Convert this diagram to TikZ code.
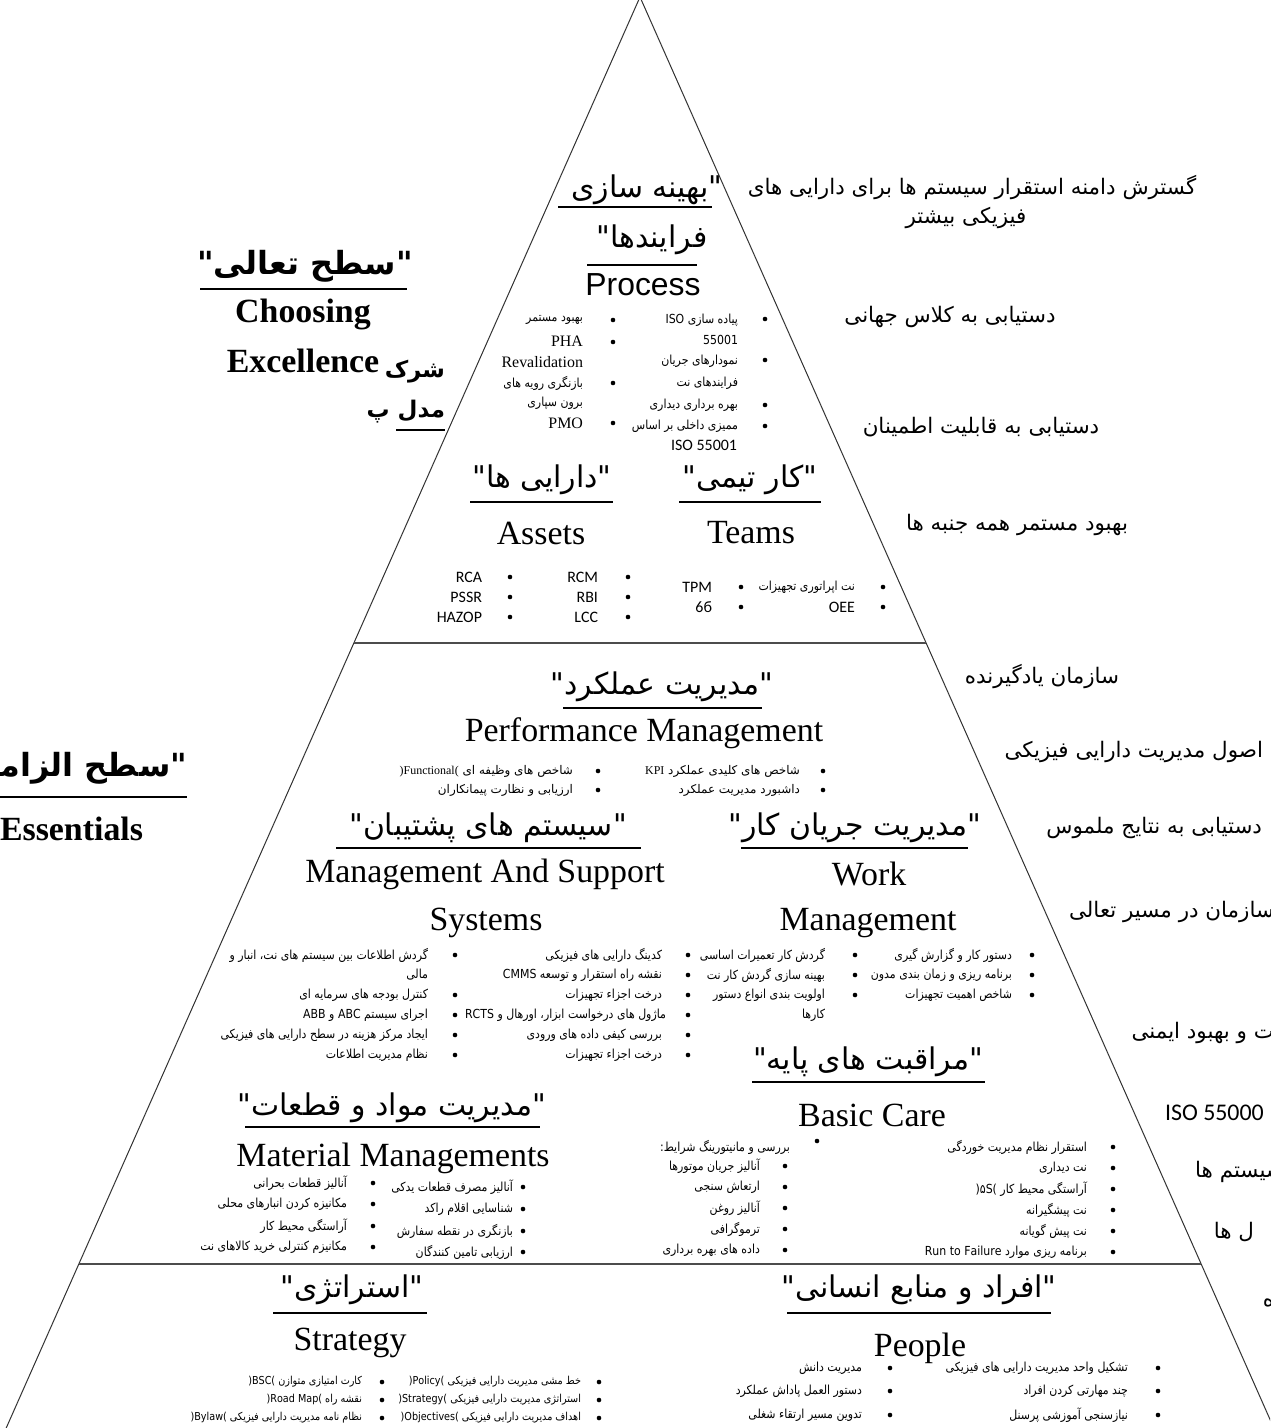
\documentclass[tikz,border=0pt]{standalone}
\usepackage{fontspec}
\usepackage{graphicx}
\setmainfont{Liberation Serif}
\newfontfamily\fafont[Script=Arabic]{DejaVu Sans}
\newfontfamily\fanarrow[Script=Arabic, FakeStretch=0.88]{DejaVu Sans}
\newfontfamily\arialfont{Liberation Sans}
\newfontfamily\califont{Carlito}
\TeXXeTstate=1
\newcommand\fa[1]{{\beginR #1\endR}}
\newcommand\lr[1]{\beginL{#1}\endL}
\newcommand\bul[2]{\fill (#1,#2) circle[radius=2.3bp];}
\tikzset{
  every node/.style={inner sep=0pt, outer sep=0pt},
  pyr/.style={draw=black!80, line width=1bp},
  divline/.style={draw=black!70, line width=1.2bp},
  uline/.style={draw=black, line width=1.3bp},
  fahead/.style={font=\fontsize{30}{34}\selectfont\fafont},
  enhead/.style={font=\fontsize{34}{38}\selectfont},
  boldhead/.style={font=\fontsize{34}{38}\selectfont\bfseries},
  fabold/.style={font=\fontsize{32}{36}\selectfont\fafont\bfseries},
  fragbold/.style={font=\fontsize{23}{26}\selectfont\fafont\bfseries, anchor=east},
  goal/.style={font=\fontsize{21.5}{25}\selectfont\fafont},
  itm/.style={font=\fontsize{12.5}{14}\selectfont\fanarrow, anchor=east},
  itmsm/.style={font=\fontsize{12}{14}\selectfont\fafont, anchor=east},
  itmxs/.style={font=\fontsize{11}{12}\selectfont\fanarrow, anchor=east},
  latitm/.style={font=\fontsize{16}{18}\selectfont\califont, anchor=east},
  seritm/.style={font=\fontsize{16}{18}\selectfont, anchor=east},
}
\begin{document}
\begin{tikzpicture}[x=1bp,y=-1bp]
\useasboundingbox (0,0) rectangle (1270,1428);
\clip (0,0) rectangle (1270,1428);
\fill[white] (0,0) rectangle (1270,1428);

% ---------- pyramid ----------
\coordinate (apex) at (640,-3);
\coordinate (bl) at (0,1442);
\coordinate (br) at (1280,1442);
\draw[pyr] (bl) -- (apex) -- (br);
\coordinate (d1l) at (354,643);
\coordinate (d1r) at (926,643);
\coordinate (d2l) at (79,1264);
\coordinate (d2r) at (1201,1264);
\draw[divline] (d1l) -- (d1r);
\draw[divline] (d2l) -- (d2r);

% ---------- top level ----------
\node[fahead] (t1) at (647,190) {\fa{"\kern0pt بهینه سازی}};
\draw[uline] (558,207) -- (712,207);
\node[fahead] (t2) at (652,240) {\fa{فرایندها\kern0pt"}};
\draw[uline] (587,265) -- (697,265);
\node[font=\fontsize{32}{36}\selectfont\arialfont] (t3) at (643,285) {Process};

\bul{765}{319}\node[itm] (p1) at (738,320) {\fa{پیاده سازی ISO}};
\node[itm] (p2) at (738,340) {\fa{55001}};
\bul{765}{360}\node[itm] (p3) at (738,361) {\fa{نمودارهای جریان}};
\node[itm] (p4) at (738,383) {\fa{فرایندهای نت}};
\bul{765}{405}\node[itm] (p5) at (738,405) {\fa{بهره برداری دیداری}};
\bul{765}{426}\node[itm] (p6) at (738,426) {\fa{ممیزی داخلی بر اساس}};
\node[latitm] (p7) at (737,445) {ISO 55001};

\bul{613}{320}\node[itm] (p8) at (583,320) {\fa{بهبود مستمر}};
\bul{613}{342}\node[seritm] (p9) at (583,341) {PHA};
\node[seritm] (p10) at (583,362) {Revalidation};
\bul{613}{383}\node[itm] (p11) at (583,383) {\fa{بازنگری رویه های}};
\node[itm] (p12) at (583,403) {\fa{برون سپاری}};
\bul{613}{423}\node[seritm] (p13) at (583,423) {PMO};

\node[fabold] (lv1) at (305,266) {\fa{"\kern0pt سطح تعالی\kern0pt"}};
\draw[uline, line width=2.2bp] (200,289) -- (407,289);
\node[boldhead] (lv1a) at (303,314) {Choosing};
\node[boldhead] (lv1b) at (303,361) {Excellence};

\node[fragbold] (fr1) at (445,372) {\fa{شرک}};
\node[fragbold] (fr2) at (445,412) {\fa{مدل پ}};
\draw[uline, line width=2bp] (396,430) -- (445,430);

\node[fahead] (a1) at (542,480) {\fa{"\kern0pt دارایی ها\kern0pt"}};
\draw[uline] (470,502) -- (613,502);
\node[fahead] (a2) at (750,480) {\fa{"\kern0pt کار تیمی\kern0pt"}};
\draw[uline] (679,502) -- (821,502);
\node[enhead] (a3) at (541,533) {Assets};
\node[enhead] (a4) at (751,533) {Teams};

\bul{510}{577}\node[latitm] (s1) at (482,577) {RCA};
\bul{510}{597}\node[latitm] (s2) at (482,597) {PSSR};
\bul{510}{617}\node[latitm] (s3) at (482,617) {HAZOP};
\bul{628}{577}\node[latitm] (s4) at (598,577) {RCM};
\bul{628}{597}\node[latitm] (s5) at (598,597) {RBI};
\bul{628}{617}\node[latitm] (s6) at (598,617) {LCC};
\bul{741}{587}\node[latitm] (s7) at (712,587) {TPM};
\bul{741}{607}\node[latitm] (s8) at (712,607) {6б};
\bul{883}{587}\node[itm] (s9) at (855,587) {\fa{نت اپراتوری تجهیزات}};
\bul{883}{607}\node[latitm] (s10) at (855,607) {OEE};

% ---------- right-hand goals ----------
\node[goal] (g1) at (972,188) {\fa{گسترش دامنه استقرار سیستم ها برای دارایی های}};
\node[goal] (g2) at (966,218) {\fa{فیزیکی بیشتر}};
\node[goal] (g3) at (950,317) {\fa{دستیابی به کلاس جهانی}};
\node[goal] (g4) at (981,427) {\fa{دستیابی به قابلیت اطمینان}};
\node[goal] (g5) at (1017,525) {\fa{بهبود مستمر همه جنبه ها}};
\node[goal] (g6) at (1042,677) {\fa{سازمان یادگیرنده}};
\node[goal, anchor=east] (g7) at (1263,752) {\fa{اصول مدیریت دارایی فیزیکی}};
\node[goal, anchor=east] (g8) at (1262,828) {\fa{دستیابی به نتایج ملموس}};
\node[goal, anchor=east] (g9) at (1274,912) {\fa{سازمان در مسیر تعالی}};
\node[goal, anchor=east] (g10) at (1274,1033) {\fa{ت و بهبود ایمنی}};
\node[font=\fontsize{24}{28}\selectfont\califont, anchor=west] (g11) at (1165,1113) {ISO 55000};
\node[goal, anchor=east] (g12) at (1284,1172) {\fa{سیستم ها}};
\node[goal, anchor=east] (g13) at (1254,1232) {\fa{ل ها}};
\node[goal, anchor=east] (g14) at (1274,1303) {\fa{ه}};

% ---------- left fragment ----------
\node[fabold, anchor=east] (lv2) at (187,768) {\fa{"\kern0pt سطح الزامات\kern0pt"}};
\draw[uline, line width=2.2bp] (0,797) -- (187,797);
\node[boldhead, anchor=west] (lv2a) at (0,829) {Essentials};

% ---------- middle level ----------
\node[fahead] (m1) at (662,687) {\fa{"\kern0pt مدیریت عملکرد\kern0pt"}};
\draw[uline] (563,708) -- (762,708);
\node[enhead] (m2) at (644,733) {Performance Management};
\bul{823}{771}\node[itmsm] (k1) at (800,771) {\fa{شاخص های کلیدی عملکرد {\rmfamily KPI}}};
\bul{823}{790}\node[itmsm] (k2) at (800,790) {\fa{داشبورد مدیریت عملکرد}};
\bul{598}{771}\node[itmsm] (k3) at (573,771) {\fa{شاخص های وظیفه ای \lr{\rmfamily )Functional(}}};
\bul{598}{790}\node[itmsm] (k4) at (573,790) {\fa{ارزیابی و نظارت پیمانکاران}};

\node[fahead] (m3) at (488,828) {\fa{"\kern0pt سیستم های پشتیبان\kern0pt"}};
\draw[uline] (336,848) -- (641,848);
\node[fahead] (m4) at (855,828) {\fa{"\kern0pt مدیریت جریان کار\kern0pt"}};
\draw[uline] (741,848) -- (968,848);
\node[enhead] (m5) at (485,874) {Management And Support};
\node[enhead] (m6) at (869,874) {Work};
\node[enhead] (m7) at (486,923) {Systems};
\node[enhead] (m8) at (868,923) {Management};

\bul{455}{955}\node[itm] (y1) at (428,955) {\fa{گردش اطلاعات بین سیستم های نت\kern0pt، انبار و}};
\node[itm] (y2) at (428,975) {\fa{مالی}};
\bul{455}{995}\node[itm] (y3) at (428,995) {\fa{کنترل بودجه های سرمایه ای}};
\bul{455}{1015}\node[itm] (y4) at (428,1015) {\fa{اجرای سیستم ABC و ABB}};
\bul{455}{1035}\node[itm] (y5) at (428,1035) {\fa{ایجاد مرکز هزینه در سطح دارایی های فیزیکی}};
\bul{455}{1055}\node[itm] (y6) at (428,1055) {\fa{نظام مدیریت اطلاعات}};

\bul{688}{955}\node[itm] (y7) at (662,955) {\fa{کدینگ دارایی های فیزیکی}};
\bul{688}{975}\node[itm] (y8) at (662,975) {\fa{نقشه راه استقرار و توسعه CMMS}};
\bul{688}{995}\node[itm] (y9) at (662,995) {\fa{درخت اجزاء تجهیزات}};
\bul{688}{1015}\node[itm] (y10) at (666,1015) {\fa{ماژول های درخواست ابزار\kern0pt، اورهال و RCTS}};
\bul{688}{1035}\node[itm] (y11) at (662,1035) {\fa{بررسی کیفی داده های ورودی}};
\bul{688}{1055}\node[itm] (y12) at (662,1055) {\fa{درخت اجزاء تجهیزات}};

\bul{855}{955}\node[itm] (w1) at (825,955) {\fa{گردش کار تعمیرات اساسی}};
\bul{855}{975}\node[itm] (w2) at (825,975) {\fa{بهینه سازی گردش کار نت}};
\bul{855}{995}\node[itm] (w3) at (825,995) {\fa{اولویت بندی انواع دستور}};
\node[itm] (w4) at (825,1015) {\fa{کارها}};
\bul{1032}{955}\node[itm] (w5) at (1012,955) {\fa{دستور کار و گزارش گیری}};
\bul{1032}{975}\node[itm] (w6) at (1012,975) {\fa{برنامه ریزی و زمان بندی مدون}};
\bul{1032}{995}\node[itm] (w7) at (1012,995) {\fa{شاخص اهمیت تجهیزات}};

\node[fahead] (m9) at (868,1062) {\fa{"\kern0pt مراقبت های پایه\kern0pt"}};
\draw[uline] (752,1082) -- (985,1082);
\node[fahead] (m10) at (392,1108) {\fa{"\kern0pt مدیریت مواد و قطعات\kern0pt"}};
\draw[uline] (245,1127) -- (540,1127);
\node[enhead] (m11) at (872,1115) {Basic Care};
\node[enhead] (m12) at (393,1158) {Material Managements};

\bul{1113}{1147}\node[itm] (b1) at (1087,1147) {\fa{استقرار نظام مدیریت خوردگی}};
\bul{1113}{1168}\node[itm] (b2) at (1087,1168) {\fa{نت دیداری}};
\bul{1113}{1189}\node[itm] (b3) at (1087,1189) {\fa{آراستگی محیط کار \lr{)۵S(}}};
\bul{1113}{1210}\node[itm] (b4) at (1087,1210) {\fa{نت پیشگیرانه}};
\bul{1113}{1231}\node[itm] (b5) at (1087,1231) {\fa{نت پیش گویانه}};
\bul{1113}{1252}\node[itm] (b6) at (1087,1252) {\fa{برنامه ریزی موارد \lr{Run to Failure}}};

\bul{817}{1141}\node[itm] (c1) at (790,1147) {\fa{بررسی و مانیتورینگ شرایط\kern0pt:}};
\bul{785}{1166}\node[itm] (c2) at (760,1166) {\fa{آنالیز جریان موتورها}};
\bul{785}{1187}\node[itm] (c3) at (760,1187) {\fa{ارتعاش سنجی}};
\bul{785}{1208}\node[itm] (c4) at (760,1208) {\fa{آنالیز روغن}};
\bul{785}{1229}\node[itm] (c5) at (760,1229) {\fa{ترموگرافی}};
\bul{785}{1250}\node[itm] (c6) at (760,1250) {\fa{داده های بهره برداری}};

\bul{523}{1187}\node[itm] (r1) at (513,1187) {\fa{آنالیز مصرف قطعات یدکی}};
\bul{523}{1209}\node[itm] (r2) at (513,1209) {\fa{شناسایی اقلام راکد}};
\bul{523}{1231}\node[itm] (r3) at (513,1231) {\fa{بازنگری در نقطه سفارش}};
\bul{523}{1252}\node[itm] (r4) at (513,1252) {\fa{ارزیابی تامین کنندگان}};
\bul{373}{1183}\node[itm] (r5) at (347,1183) {\fa{آنالیز قطعات بحرانی}};
\bul{373}{1204}\node[itm] (r6) at (347,1204) {\fa{مکانیزه کردن انبارهای محلی}};
\bul{373}{1226}\node[itm] (r7) at (347,1226) {\fa{آراستگی محیط کار}};
\bul{373}{1247}\node[itm] (r8) at (347,1247) {\fa{مکانیزم کنترلی خرید کالاهای نت}};

% ---------- bottom level ----------
\node[fahead] (n1) at (352,1290) {\fa{"\kern0pt استراتژی\kern0pt"}};
\draw[uline] (273,1313) -- (427,1313);
\node[fahead] (n2) at (919,1290) {\fa{"\kern0pt افراد و منابع انسانی\kern0pt"}};
\draw[uline] (787,1313) -- (1051,1313);
\node[enhead] (n3) at (350,1343) {Strategy};
\node[enhead] (n4) at (920,1348) {People};

\bul{599}{1382}\node[itmxs] (x1) at (581,1382) {\fa{خط مشی مدیریت دارایی فیزیکی \lr{)Policy(}}};
\bul{599}{1400}\node[itmxs] (x2) at (581,1400) {\fa{استراتژی مدیریت دارایی فیزیکی \lr{)Strategy(}}};
\bul{599}{1418}\node[itmxs] (x3) at (581,1418) {\fa{اهداف مدیریت دارایی فیزیکی \lr{)Objectives(}}};
\bul{382}{1382}\node[itmxs] (x4) at (362,1382) {\fa{کارت امتیازی متوازن \lr{)BSC(}}};
\bul{382}{1400}\node[itmxs] (x5) at (362,1400) {\fa{نقشه راه \lr{)Road Map(}}};
\bul{382}{1418}\node[itmxs] (x6) at (362,1418) {\fa{نظام نامه مدیریت دارایی فیزیکی \lr{)Bylaw(}}};

\bul{1158}{1368}\node[itm] (z1) at (1128,1368) {\fa{تشکیل واحد مدیریت دارایی های فیزیکی}};
\bul{1158}{1391}\node[itm] (z2) at (1128,1391) {\fa{چند مهارتی کردن افراد}};
\bul{1158}{1415}\node[itm] (z3) at (1128,1415) {\fa{نیازسنجی آموزشی پرسنل}};
\bul{890}{1368}\node[itm] (z4) at (862,1368) {\fa{مدیریت دانش}};
\bul{890}{1391}\node[itm] (z5) at (862,1391) {\fa{دستور العمل پاداش عملکرد}};
\bul{890}{1415}\node[itm] (z6) at (862,1415) {\fa{تدوین مسیر ارتقاء شغلی}};
\end{tikzpicture}
\end{document}
